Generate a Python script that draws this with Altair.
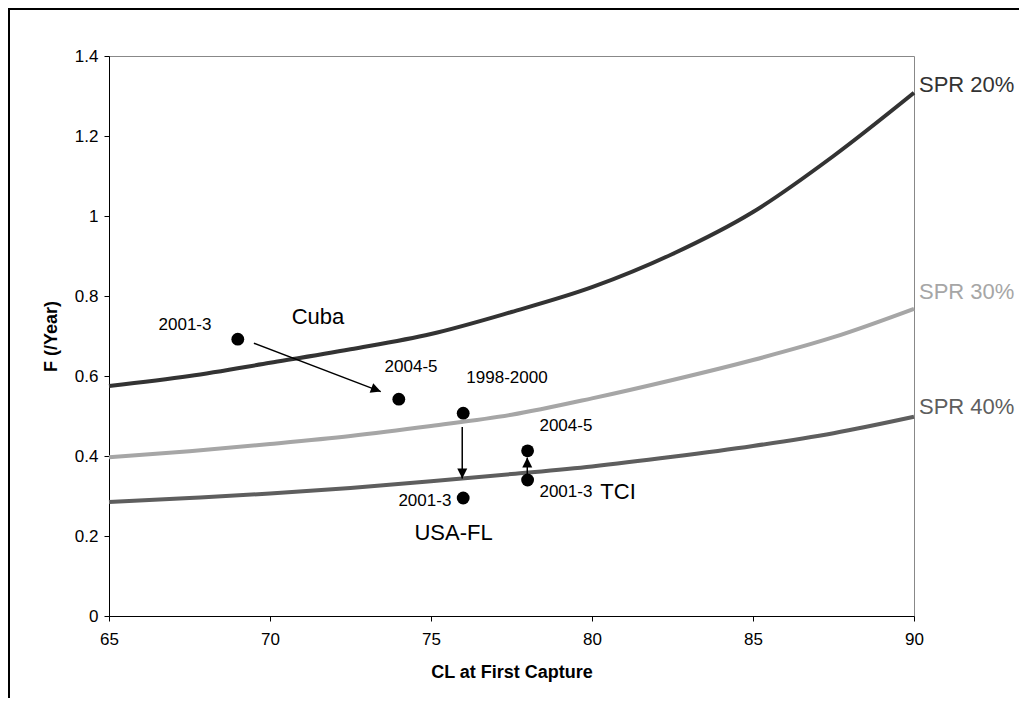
import altair as alt
import pandas as pd

FONT = "Liberation Sans"

# --- curves (SPR isopleths) ---
cl_grid = [65, 67.5, 70, 72.5, 75, 77.5, 80, 82.5, 85, 87.5, 90]
spr20 = [0.575, 0.600, 0.633, 0.667, 0.705, 0.760, 0.822, 0.905, 1.010, 1.150, 1.308]
spr30 = [0.397, 0.412, 0.430, 0.450, 0.475, 0.503, 0.544, 0.590, 0.640, 0.697, 0.768]
spr40 = [0.285, 0.295, 0.306, 0.320, 0.337, 0.355, 0.374, 0.398, 0.425, 0.457, 0.498]
series_names = ["SPR 20%", "SPR 30%", "SPR 40%"]
series_colors = ["#333333", "#a6a6a6", "#5e5e5e"]

# --- right-hand curve labels ---
spr_lab_f = [1.3275, 0.81, 0.5225]

# --- observed points ---
pt_cl = [69, 74, 76, 76, 78, 78]
pt_f = [0.692, 0.542, 0.507, 0.295, 0.340, 0.413]
pt_label = ["2001-3", "2004-5", "1998-2000", "2001-3", "2001-3", "2004-5"]
lab_cl = [67.36, 74.38, 77.36, 74.81, 79.19, 79.19]
lab_f = [0.7275, 0.6225, 0.595, 0.2875, 0.310, 0.475]

# --- region labels ---
grp_label = ["Cuba", "USA-FL", "TCI"]
grp_cl = [71.49, 75.70, 80.81]
grp_f = [0.7475, 0.2075, 0.310]

# --- arrows ---
arr_cl0 = [69.50, 75.97, 77.99]
arr_f0 = [0.682, 0.4725, 0.355]
arr_cl1 = [73.44, 75.97, 77.99]
arr_f1 = [0.561, 0.344, 0.396]
arr_angle = [111, 180, 0]

x_ticks = [65, 70, 75, 80, 85, 90]
y_ticks = [0, 0.2, 0.4, 0.6, 0.8, 1.0, 1.2, 1.4]

rows = []
for name, vals in zip(series_names, [spr20, spr30, spr40]):
    for c, v in zip(cl_grid, vals):
        rows.append({"series": name, "cl": c, "f": v})
curves = pd.DataFrame(rows)
spr_labels = pd.DataFrame({"series": series_names, "cl": [90] * 3, "f": spr_lab_f})
points = pd.DataFrame({"cl": pt_cl, "f": pt_f})
plabels = pd.DataFrame({"cl": lab_cl, "f": lab_f, "t": pt_label})
glabels = pd.DataFrame({"cl": grp_cl, "f": grp_f, "t": grp_label})
arrows = pd.DataFrame({"cl0": arr_cl0, "f0": arr_f0, "cl1": arr_cl1, "f1": arr_f1, "ang": arr_angle})

xs = alt.Scale(domain=[65, 90], nice=False, zero=False)
ys = alt.Scale(domain=[0, 1.4], nice=False)
cs = alt.Scale(domain=series_names, range=series_colors)

x_axis = alt.Axis(values=x_ticks, title="CL at First Capture", grid=False, labelFlush=False,
                  tickSize=5, labelPadding=10, titlePadding=16)
y_axis = alt.Axis(values=y_ticks, title="F (/Year)", grid=False, format="~g",
                  tickSize=5, labelPadding=6, titlePadding=14)

X = alt.X("cl:Q", scale=xs, axis=x_axis)
Y = alt.Y("f:Q", scale=ys, axis=y_axis)

lines = alt.Chart(curves).mark_line(interpolate="monotone", strokeWidth=4).encode(
    x=X, y=Y, color=alt.Color("series:N", scale=cs, legend=None), detail="series:N")

spr_text = alt.Chart(spr_labels).mark_text(align="left", baseline="middle", dx=5,
                                           fontSize=22, font=FONT).encode(
    x="cl:Q", y="f:Q", text="series:N", color=alt.Color("series:N", scale=cs, legend=None))

dots = alt.Chart(points).mark_circle(size=165, color="black", opacity=1).encode(x="cl:Q", y="f:Q")

arrow_lines = alt.Chart(arrows).mark_rule(color="black", strokeWidth=1.5).encode(
    x="cl0:Q", y="f0:Q", x2="cl1:Q", y2="f1:Q")

heads = alt.Chart(arrows).mark_point(shape="M0,0 L-0.5,1 L0.5,1 Z", filled=True, size=400,
                                     color="black", opacity=1, strokeWidth=0).encode(
    x="cl1:Q", y="f1:Q", angle=alt.Angle("ang:Q", scale=None))

ptext = alt.Chart(plabels).mark_text(fontSize=17, font=FONT, color="black",
                                     baseline="middle", align="center").encode(
    x="cl:Q", y="f:Q", text="t:N")

gtext = alt.Chart(glabels).mark_text(fontSize=22, font=FONT, color="black",
                                     baseline="middle", align="center").encode(
    x="cl:Q", y="f:Q", text="t:N")

border_top = alt.Chart(pd.DataFrame({"a": [0]})).mark_rule(color="black", strokeWidth=2).encode(
    x=alt.value(-101), x2=alt.value(910), y=alt.value(-47))
border_left = alt.Chart(pd.DataFrame({"a": [0]})).mark_rule(color="black", strokeWidth=2).encode(
    x=alt.value(-100), y=alt.value(-48), y2=alt.value(642))

chart = alt.layer(lines, spr_text, arrow_lines, heads, dots, ptext, gtext, border_top, border_left).properties(
    width=805, height=560, autosize="none",
    padding={"left": 101, "top": 48, "right": 105, "bottom": 82},
    background="white",
).configure_view(stroke="#888888", strokeWidth=1).configure_axis(
    domainColor="black", tickColor="black", labelColor="black", titleColor="black",
    labelFont=FONT, titleFont=FONT, labelFontSize=17, titleFontSize=18, titleFontWeight="bold",
    domainWidth=1, tickWidth=1,
)

chart.save("out.html", embed_options={"renderer": "svg", "actions": False})
